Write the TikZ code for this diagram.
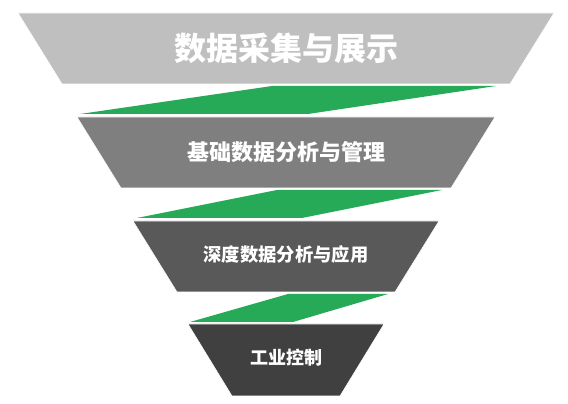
\documentclass[tikz,border=0pt]{standalone}
\usepackage{fontspec}
\newfontfamily\cjk{Noto Sans CJK SC}
\usetikzlibrary{calc}
\definecolor{layerA}{HTML}{BFBFBF}
\definecolor{layerB}{HTML}{7F7F7F}
\definecolor{layerC}{HTML}{595959}
\definecolor{layerD}{HTML}{404040}
\definecolor{bandgreen}{RGB}{38,170,88}
\tikzset{
	layer/.style={draw=white, line width=0.6pt},
	band/.style={fill=bandgreen, draw=none},
	label/.style={text=white, font=\cjk\bfseries, inner sep=0pt}
}
\begin{document}
\begin{tikzpicture}[x=1pt, y=1pt]
		%%%%% START %%%%%
		\useasboundingbox (0, 0) rectangle (568, 404);
		
		\draw[layer, fill=layerA] (18, 391) -- (554, 391) -- (510, 320) -- (62, 320) -- cycle;
		\node[label, font=\cjk\bfseries\fontsize{32}{32}\selectfont] (caiji) at (286, 356) {数据采集与展示};
		
		\fill[band] (80, 290) -- (272, 318) -- (496, 318) -- (308, 290) -- cycle;
		
		\draw[layer, fill=layerB] (77, 287) -- (495, 287) -- (451, 216) -- (121, 216) -- cycle;
		\node[label, font=\cjk\bfseries\fontsize{22}{22}\selectfont] (jichu) at (286, 252) {基础数据分析与管理};
		
		\fill[band] (137, 186) -- (277, 214) -- (442, 214) -- (302, 186) -- cycle;
		
		\draw[layer, fill=layerC] (133, 183) -- (439, 183) -- (395, 112) -- (177, 112) -- cycle;
		\node[label, font=\cjk\bfseries\fontsize{18.3}{18.3}\selectfont] (shendu) at (286, 149) {深度数据分析与应用};
		
		\fill[band] (190, 82) -- (288, 110) -- (388, 110) -- (293, 82) -- cycle;
		
		\draw[layer, fill=layerD] (188, 80) -- (384, 80) -- (340, 8) -- (232, 8) -- cycle;
		\node[label, font=\cjk\bfseries\fontsize{18}{18}\selectfont] (kongzhi) at (286, 46) {工业控制};
		
		%%%%% END %%%%%
\end{tikzpicture}
\end{document}
